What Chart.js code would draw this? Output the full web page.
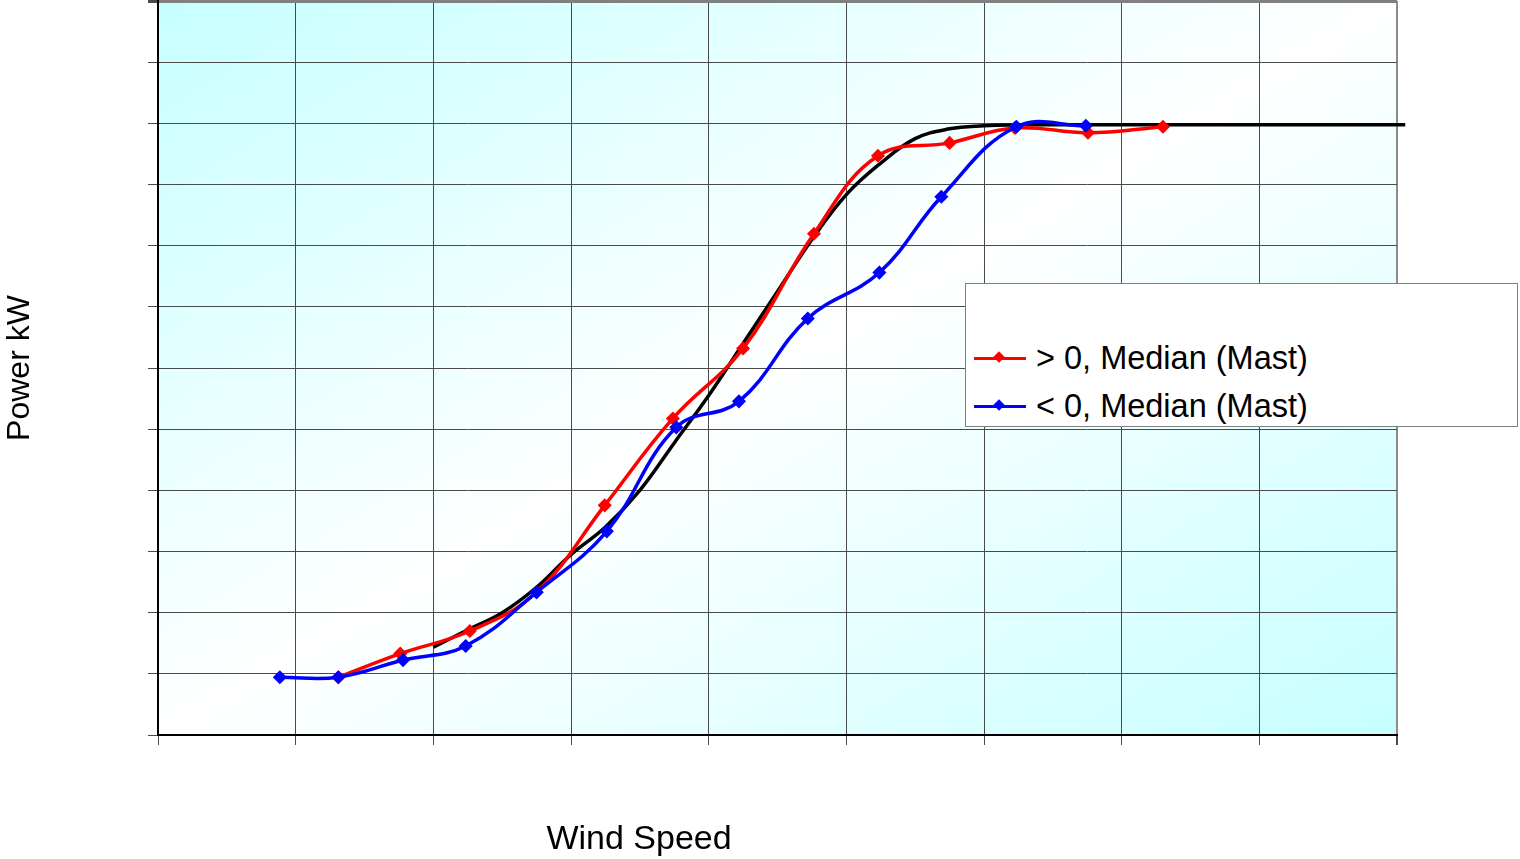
<!DOCTYPE html>
<html>
<head>
<meta charset="utf-8">
<script src="https://cdn.jsdelivr.net/npm/chart.js@4.4.1/dist/chart.umd.min.js"></script>
<style>
html,body{margin:0;padding:0;background:#fff;overflow:hidden}
#wrap{position:relative;width:1520px;height:859px}
#legend{position:absolute;left:965px;top:283px;width:553px;height:144px;border:1px solid #7f7f7f;background:#fff;box-sizing:border-box;font-family:"Liberation Sans",Arial,sans-serif;font-size:32.5px;color:#000}
.item{position:absolute;left:8px;height:40px;display:flex;align-items:center;white-space:nowrap}
.mark{position:relative;width:52px;height:3px;margin-right:10px}
.mark i{position:absolute;left:21px;top:-3.5px;width:8px;height:8px;transform:rotate(45deg)}
</style>
</head>
<body>
<div id="wrap">
<canvas id="c" width="1520" height="859"></canvas>
<div id="legend"></div>
</div>
<script>
// Reference power curve
const refSpeed = [4.0, 4.5, 5.0, 5.5, 6.0, 6.5, 7.0, 7.5, 8.0, 8.5, 9.0, 9.5, 10.0, 10.5, 11.0, 11.5, 12.0, 12.5, 13.0, 18.12];
const refPower = [287, 344, 400, 483, 590, 680, 800, 955, 1110, 1280, 1450, 1620, 1767, 1870, 1950, 1982, 1992, 1995, 1995, 1995];

// > 0, Median (Mast)
const posSpeed = [2.62, 3.52, 4.53, 5.5, 6.49, 7.48, 8.5, 9.53, 10.46, 11.5, 12.45, 13.51, 14.6];
const posPower = [189, 266, 340, 467, 751, 1035, 1264, 1639, 1894, 1936, 1985, 1969, 1989];

// < 0, Median (Mast)
const negSpeed = [1.77, 2.62, 3.56, 4.47, 5.5, 6.52, 7.53, 8.44, 9.44, 10.48, 11.38, 12.47, 13.48];
const negPower = [189, 189, 245, 291, 467, 666, 1006, 1091, 1362, 1512, 1760, 1989, 1992];

const seriesLabels = ['> 0, Median (Mast)', '< 0, Median (Mast)'];
const xTitle = 'Wind Speed';
const yTitle = 'Power kW';

const toXY = (xs, ys) => xs.map((x, i) => ({x: x, y: ys[i]}));
const FONT = '"Liberation Sans", Arial, sans-serif';

const bgPlugin = {
  id: 'bg',
  beforeDraw(chart) {
    const {ctx, chartArea: a} = chart;
    ctx.save();
    ctx.translate(a.left, a.top);
    ctx.scale(a.right - a.left, a.bottom - a.top);
    const g = ctx.createLinearGradient(0, 0, 1, 1);
    g.addColorStop(0, '#c6ffff');
    g.addColorStop(0.5, '#ffffff');
    g.addColorStop(1, '#c6ffff');
    ctx.fillStyle = g;
    ctx.fillRect(0, 0, 1, 1);
    ctx.restore();
  }
};

const xTitlePlugin = {
  id: 'xTitle',
  afterDraw(chart) {
    const ctx = chart.ctx;
    ctx.save();
    ctx.font = '34px ' + FONT;
    ctx.fillStyle = '#000';
    ctx.textAlign = 'center';
    ctx.textBaseline = 'middle';
    ctx.fillText(xTitle, 639, 840);
    ctx.restore();
  }
};

const chart = new Chart(document.getElementById('c'), {
  type: 'line',
  data: {
    datasets: [
      {
        label: seriesLabels[1], data: toXY(negSpeed, negPower),
        borderColor: '#0000ff', backgroundColor: '#0000ff', borderWidth: 3.5,
        pointStyle: 'rectRot', pointRadius: 6, pointBorderWidth: 1.5,
        tension: 0.4, order: 0
      },
      {
        label: seriesLabels[0], data: toXY(posSpeed, posPower),
        borderColor: '#ff0000', backgroundColor: '#ff0000', borderWidth: 3.5,
        pointStyle: 'rectRot', pointRadius: 6, pointBorderWidth: 1.5,
        tension: 0.4, order: 1
      },
      {
        label: 'Power Curve', data: toXY(refSpeed, refPower),
        borderColor: '#000000', backgroundColor: '#000000', borderWidth: 3.5,
        pointRadius: 0, tension: 0.4, order: 2, clip: false
      }
    ]
  },
  options: {
    responsive: false,
    animation: false,
    devicePixelRatio: 1,
    layout: {autoPadding: false, padding: {top: 1, right: 123, left: 0, bottom: 0}},
    plugins: {legend: {display: false}, tooltip: {enabled: false}, title: {display: false}},
    scales: {
      x: {
        type: 'linear', min: 0, max: 18,
        ticks: {display: false, stepSize: 2},
        grid: {
          color: (c) => c.tick && c.tick.value === 18 ? '#8c8c8c' : '#4a4a4a',
          lineWidth: (c) => c.tick && c.tick.value === 18 ? 2 : 1,
          tickColor: '#4a4a4a', tickLength: 10, drawTicks: true
        },
        border: {color: '#000', width: 2},
        afterFit(s) { s.height = 124; }
      },
      y: {
        type: 'linear', min: 0, max: 2400,
        ticks: {display: false, stepSize: 200},
        grid: {
          color: (c) => c.tick && c.tick.value === 2400 ? '#808080' : '#4a4a4a',
          lineWidth: (c) => c.tick && c.tick.value === 2400 ? 3 : 1,
          tickColor: '#4a4a4a', tickLength: 10, drawTicks: true
        },
        border: {color: '#000', width: 2},
        title: {display: true, text: yTitle, color: '#000', font: {family: FONT, size: 32}, padding: {top: 1, bottom: 0}},
        afterFit(s) { s.width = 158; }
      }
    }
  },
  plugins: [bgPlugin, xTitlePlugin]
});

// HTML legend built from the chart's datasets
const legendEl = document.getElementById('legend');
const legendItems = [chart.data.datasets[1], chart.data.datasets[0]];
legendItems.forEach((ds, i) => {
  const item = document.createElement('div');
  item.className = 'item';
  item.style.top = (54 + i * 48) + 'px';
  const mark = document.createElement('span');
  mark.className = 'mark';
  mark.style.background = ds.borderColor;
  const dia = document.createElement('i');
  dia.style.background = ds.borderColor;
  mark.appendChild(dia);
  const txt = document.createElement('span');
  txt.textContent = ds.label;
  item.appendChild(mark);
  item.appendChild(txt);
  legendEl.appendChild(item);
});
</script>
</body>
</html>
